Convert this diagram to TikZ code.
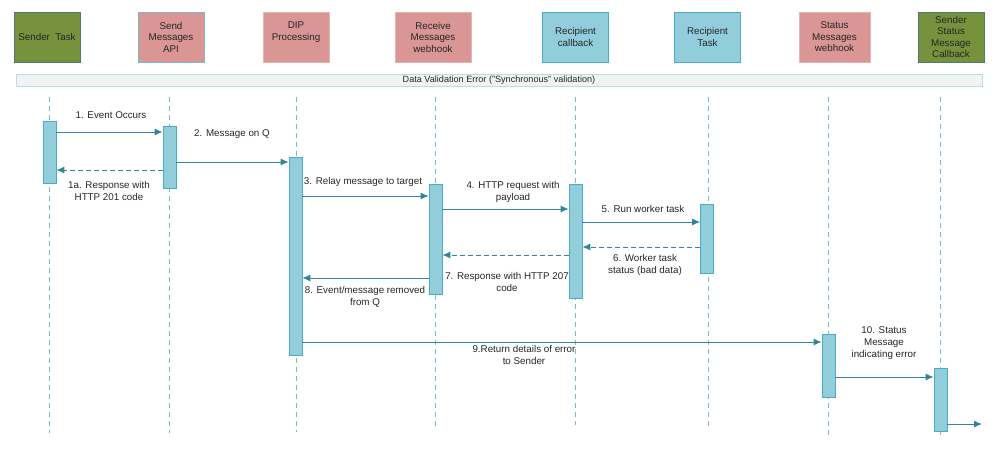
\documentclass[tikz,border=0pt]{standalone}
\usepackage{fontspec}
\setmainfont{Liberation Sans}
\usepackage{xcolor}
\usetikzlibrary{arrows.meta}

\definecolor{hdgreen}{HTML}{76923C}
\definecolor{hdgreenline}{HTML}{4F7A6E}
\definecolor{hdpink}{HTML}{D99694}
\definecolor{hdpinkline}{HTML}{E6B4B2}
\definecolor{hdblue}{HTML}{92CDDC}
\definecolor{hdblueline}{HTML}{4BACC6}
\definecolor{lifeblue}{HTML}{7DB6C9}
\definecolor{msgteal}{HTML}{31849B}
\definecolor{bannerline}{HTML}{B7DEE8}

\tikzset{
	head/.style={draw,line width=1pt,minimum width=66pt,minimum height=50pt,inner sep=1pt,align=center,text=black!85,font=\fontsize{9.8}{11.5}\selectfont},
	banner/.style={draw=bannerline,fill=black!5,line width=1pt,minimum width=966pt,minimum height=12pt,inner sep=0pt,text=black!85,font=\fontsize{9.1}{10}\selectfont},
	life/.style={lifeblue,line width=1pt,dash pattern=on 5pt off 4pt},
	bar/.style={draw=hdblueline,fill=hdblue,line width=0.8pt,minimum width=13pt,inner sep=0pt},
	msg/.style={msgteal,line width=1pt,-{Latex[length=8pt,width=7pt]}},
	reply/.style={msg,dash pattern=on 5pt off 3pt},
	lbl/.style={align=center,inner sep=0pt,text=black!85}
}

\begin{document}
\begin{tikzpicture}[x=1pt,y=-1pt,font=\fontsize{9.8}{12}\selectfont]
	\useasboundingbox (0,0) rectangle (1004,456);

	\node[head,fill=hdgreen,draw=hdgreenline] (sender) at (47,37) {Sender\ \ Task};
	\node[head,fill=hdpink,draw=lifeblue] (sendapi) at (171,37) {Send\\Messages\\API};
	\node[head,fill=hdpink,draw=hdpinkline] (dip) at (296,37) {DIP\\Processing\\~};
	\node[head,fill=hdpink,draw=hdpinkline,minimum width=76pt] (receive) at (433,37) {Receive\\Messages\\webhook};
	\node[head,fill=hdblue,draw=hdblueline] (callback) at (575.5,37) {Recipient\\callback};
	\node[head,fill=hdblue,draw=hdblueline] (rtask) at (707.5,37) {Recipient\\Task};
	\node[head,fill=hdpink,draw=hdpinkline,minimum width=71pt] (status) at (834.5,37) {Status\\Messages\\webhook};
	\node[head,fill=hdgreen,draw=hdgreenline] (sscb) at (951,37) {Sender\\Status\\Message\\Callback};

	\node[banner] (phase) at (499,80) {Data Validation Error ("Synchronous" validation)};

	\draw[life] (49,97) -- (49,433);
	\draw[life] (169,97) -- (169,433);
	\draw[life] (296,97) -- (296,432);
	\draw[life] (435,97) -- (435,428);
	\draw[life] (575,97) -- (575,425);
	\draw[life] (708,97) -- (708,430);
	\draw[life] (828,97) -- (828,438);
	\draw[life] (940,97) -- (940,435);

	\node[bar,minimum height=62pt] (snd1) at (49.5,152) {};
	\node[bar,minimum height=62pt] (api1) at (169.5,157) {};
	\node[bar,minimum height=198pt] (dip1) at (295.5,256) {};
	\node[bar,minimum height=110pt] (rcv1) at (435.5,239) {};
	\node[bar,minimum height=114pt] (cb1) at (575.5,241) {};
	\node[bar,minimum height=69pt] (rt1) at (707,238.5) {};
	\node[bar,minimum height=63pt] (st1) at (828.5,365.5) {};
	\node[bar,minimum height=63pt] (ss1) at (940.5,399.5) {};

	\draw[msg] (snd1.east |- 0,132) -- (api1.west |- 0,132);
	\draw[reply] (api1.west |- 0,170) -- (snd1.east |- 0,170);
	\draw[msg] (api1.east |- 0,162) -- (dip1.west |- 0,162);
	\draw[msg] (dip1.east |- 0,196) -- (rcv1.west |- 0,196);
	\draw[msg] (rcv1.east |- 0,209) -- (cb1.west |- 0,209);
	\draw[msg] (cb1.east |- 0,222) -- (rt1.west |- 0,222);
	\draw[reply] (rt1.west |- 0,247) -- (cb1.east |- 0,247);
	\draw[reply] (cb1.west |- 0,255) -- (rcv1.east |- 0,255);
	\draw[msg] (rcv1.west |- 0,278) -- (dip1.east |- 0,278);
	\draw[msg] (dip1.east |- 0,342) -- (st1.west |- 0,342);
	\draw[msg] (st1.east |- 0,377) -- (ss1.west |- 0,377);
	\coordinate (exit) at (982,424);
	\draw[msg] (ss1.east |- exit) -- (exit);

	\node[lbl] (m1) at (111,115) {1. Event Occurs};
	\node[lbl] (m1a) at (109,191) {1a. Response with\\HTTP 201 code};
	\node[lbl] (m2) at (232,134) {2. Message on Q};
	\node[lbl] (m3) at (363,182) {3. Relay message to target};
	\node[lbl] (m4) at (513,192) {4. HTTP request with\\payload};
	\node[lbl] (m5) at (643,209) {5. Run worker task};
	\node[lbl] (m6) at (645,265) {6. Worker task\\status (bad data)};
	\node[lbl] (m7) at (507,282) {7. Response with HTTP 207\\code};
	\node[lbl] (m8) at (365,297) {8. Event/message removed\\from Q};
	\node[lbl] (m9) at (524,355) {9.Return details of error\\to Sender};
	\node[lbl] (m10) at (884,343) {10. Status\\Message\\indicating error};
\end{tikzpicture}
\end{document}
